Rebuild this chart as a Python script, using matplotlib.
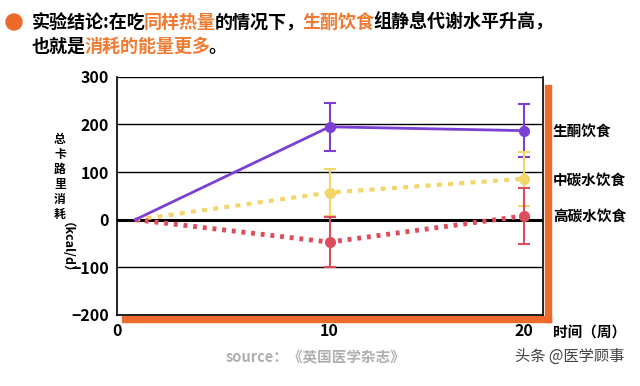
import matplotlib.pyplot as plt
from matplotlib.patches import Rectangle, Ellipse

plt.rcParams['font.family'] = ['Noto Sans CJK SC', 'DejaVu Sans']

weeks = [0, 10, 20]
keto = [0, 195, 187]
keto_err = [0, 51, 56]
mid_carb = [0, 57, 86]
mid_err = [0, 50, 57]
high_carb = [0, -47, 8]
high_err = [0, 53, 58]
series_names = ['生酮饮食', '中碳水饮食', '高碳水饮食']
yticks = [-200, -100, 0, 100, 200, 300]

orange = '#EE6A2C'
title_orange = '#F07B32'
purple = '#7B3FD4'
yellow = '#F3D56A'
red = '#DC4E5C'

fig = plt.figure(figsize=(6.4, 3.86), dpi=100)
ax = fig.add_axes([0.183, 0.184, 0.666, 0.617])

xmin, xmax = -0.93, 21.0
ax.set_xlim(xmin, xmax)
ax.set_ylim(-200, 300)

for y in yticks:
    ax.axhline(y, color='black', lw=2.2 if y == 0 else 1.0, zorder=1)

ax.plot(weeks, keto, color=purple, lw=2, zorder=4)
ax.plot(weeks, mid_carb, color=yellow, lw=3, ls=(0, (1.2, 1.5)), zorder=3)
ax.plot(weeks, high_carb, color=red, lw=3.5, ls=(0, (0.8, 1.2)), zorder=3)

for vals, errs, c in [(keto, keto_err, purple), (mid_carb, mid_err, yellow),
                      (high_carb, high_err, red)]:
    ax.errorbar(weeks[1:], vals[1:], yerr=errs[1:], fmt='o', color=c, ms=7,
                capsize=4, elinewidth=1.5, capthick=1.5, zorder=5)

ax.set_yticks(yticks)
ax.set_xticks([xmin, 10, 20], ['0', '10', '20'])
ax.tick_params(length=0, labelsize=11.5, pad=6)
for lab in ax.get_xticklabels() + ax.get_yticklabels():
    lab.set_fontweight('bold')
ax.spines['top'].set_visible(False)
for s in ['right', 'left', 'bottom']:
    ax.spines[s].set_linewidth(1.2)

# orange shadow frame
ax.add_patch(Rectangle((0.012, -0.03), 1.006, 0.026, transform=ax.transAxes,
                       color=orange, clip_on=False, zorder=0))
ax.add_patch(Rectangle((1.003, -0.03), 0.015, 0.996, transform=ax.transAxes,
                       color=orange, clip_on=False, zorder=0))

# series labels
label_y = [131, 180, 216]
for name, py in zip(series_names, label_y):
    fig.text(553 / 640, 1 - py / 386, name, fontsize=10.5, fontweight='bold',
             va='center', ha='left')
fig.text(553 / 640, 1 - 333 / 386, '时间（周）', fontsize=10.5, fontweight='bold',
         va='center', ha='left')

# y label
fig.text(60 / 640, 1 - 177 / 386, '总\n卡\n路\n里\n消\n耗', fontsize=8.5,
         fontweight='bold', va='center', ha='center', linespacing=1.2)
fig.text(60 / 640, 1 - 254 / 386, '（kcal/d）', fontsize=9, fontweight='bold',
         va='center', ha='center', rotation=-90)

# title with coloured segments
fig.patches.append(Ellipse((14 / 640, 1 - 22 / 386), 16 / 640, 16 / 386,
                           transform=fig.transFigure, color=orange))
line1 = [('实验结论:在吃', 'black'), ('同样热量', title_orange), ('的情况下，', 'black'),
         ('生酮饮食', title_orange), ('组静息代谢水平升高，', 'black')]
line2 = [('也就是', 'black'), ('消耗的能量更多', title_orange), ('。', 'black')]
for segs, ty in [(line1, 22), (line2, 46)]:
    last = None
    for txt, c in segs:
        if last is None:
            last = fig.text(32 / 640, 1 - ty / 386, txt, fontsize=13,
                            fontweight='bold', color=c, va='center', ha='left')
        else:
            last = ax.annotate(txt, xy=(1, 0.5), xycoords=last,
                               xytext=(-1.2, 0), textcoords='offset points',
                               fontsize=13, fontweight='bold', color=c,
                               va='center', ha='left', annotation_clip=False)

fig.text(316 / 640, 1 - 357 / 386, 'source：《英国医学杂志》', fontsize=10.5,
         color='#B0B0B0', ha='center', va='center', fontweight='bold')
fig.text(570 / 640, 1 - 356 / 386, '头条 @医学顾事', fontsize=11,
         color='#444444', ha='center', va='center')

fig.savefig('out.png', dpi=100)
